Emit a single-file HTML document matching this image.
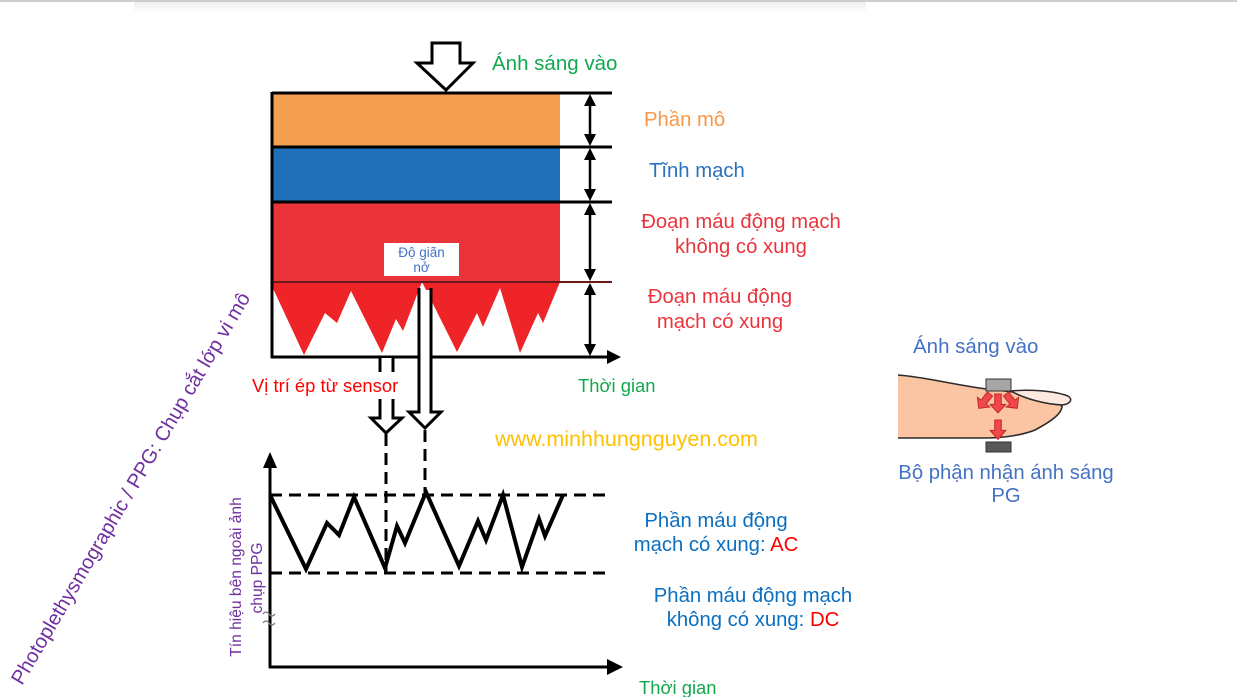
<!DOCTYPE html>
<html>
<head>
<meta charset="utf-8">
<style>
html,body{margin:0;padding:0;background:#fff;}
body{width:1237px;height:697px;overflow:hidden;position:relative;}
svg{position:absolute;left:0;top:0;}
text{font-family:"Liberation Sans","DejaVu Sans",sans-serif;}
</style>
</head>
<body>
<svg width="1237" height="697" viewBox="0 0 1237 697" xmlns="http://www.w3.org/2000/svg">
  <defs>
    <linearGradient id="topg" x1="0" y1="0" x2="0" y2="1">
      <stop offset="0" stop-color="#efefef"/>
      <stop offset="1" stop-color="#ffffff"/>
    </linearGradient>
  </defs>
  <!-- top faint line -->
  <rect x="0" y="0" width="1237" height="2" fill="#cdcdcd"/>
  <rect x="134" y="2" width="732" height="11" fill="url(#topg)"/>

  <!-- ===== TOP CHART ===== -->
  <rect x="272" y="93" width="288" height="54" fill="#f49f50"/>
  <rect x="272" y="147" width="288" height="55" fill="#1f6fb9"/>
  <rect x="272" y="202" width="288" height="80" fill="#eb3439"/>
  <polygon fill="#ee2428" points="270,282 304,355 325,313 337,323 351,291 382,353 396,319 403,331 422,282 457,352 477,313 483,327 500,288 520,353 538,313 543,323 560,282"/>

  <g stroke="#000" stroke-width="3" fill="none">
    <line x1="272" y1="93" x2="612" y2="93"/>
    <line x1="272" y1="147" x2="612" y2="147"/>
    <line x1="272" y1="202" x2="612" y2="202"/>
    <line x1="272" y1="282" x2="612" y2="282" stroke="#6a1a1a" stroke-width="2"/>
    <line x1="272" y1="92" x2="272" y2="358"/>
    <line x1="271" y1="357" x2="610" y2="357"/>
  </g>
  <polygon points="621,357 607,350 607,364" fill="#000"/>

  <!-- double arrows -->
  <g stroke="#000" stroke-width="2.5">
    <line x1="590" y1="100" x2="590" y2="140"/>
    <line x1="590" y1="154" x2="590" y2="195"/>
    <line x1="590" y1="209" x2="590" y2="275"/>
    <line x1="590" y1="289" x2="590" y2="350"/>
  </g>
  <g fill="#000">
    <polygon points="590,94 584,106 596,106"/>
    <polygon points="590,146 584,134 596,134"/>
    <polygon points="590,148 584,160 596,160"/>
    <polygon points="590,201 584,189 596,189"/>
    <polygon points="590,203 584,215 596,215"/>
    <polygon points="590,281 584,269 596,269"/>
    <polygon points="590,283 584,295 596,295"/>
    <polygon points="590,356 584,344 596,344"/>
  </g>

  <!-- top hollow arrow -->
  <polygon points="432,43 460,43 460,63 473,63 446,90 417,63 432,63" fill="#fff" stroke="#000" stroke-width="3" stroke-linejoin="miter"/>

  <!-- label box -->
  <rect x="384" y="243" width="75" height="33" fill="#fff"/>
  <text x="421.5" y="257" font-size="13.5" fill="#4472c4" text-anchor="middle">Độ giãn</text>
  <text x="421.5" y="272" font-size="13.5" fill="#4472c4" text-anchor="middle">nở</text>

  <!-- peak hollow arrow -->
  <polygon points="419,290 419,412 409,412 425,428 441,412 431,412 431,290" fill="#fff" stroke="none"/>
  <polyline points="419,288 419,412 409,412 425,428 441,412 431,412 431,288" fill="none" stroke="#000" stroke-width="3"/>

  <!-- sensor hollow arrow -->
  <polygon points="380,358 380,418 371,418 386,433 402,418 393,418 393,358" fill="#fff" stroke="none"/>
  <polyline points="380,358 380,418 371,418 386,433 402,418 393,418 393,358" fill="none" stroke="#000" stroke-width="3"/>
  <rect x="250" y="372" width="147" height="27" fill="#fff"/>
  <text x="252" y="392" font-size="18.4" fill="#ff0000">Vị trí ép từ sensor</text>

  <!-- dashed verticals -->
  <g stroke="#000" stroke-width="3" stroke-dasharray="12 7" fill="none">
    <line x1="386" y1="434" x2="386" y2="573"/>
    <line x1="425" y1="430" x2="425" y2="495"/>
  </g>

  <!-- ===== LOWER CHART ===== -->
  <g stroke="#000" stroke-width="3" fill="none">
    <line x1="270" y1="466" x2="270" y2="668"/>
    <line x1="269" y1="667" x2="608" y2="667"/>
  </g>
  <polygon points="270,452 263,468 277,468" fill="#000"/>
  <polygon points="623,667 607,659 607,675" fill="#000"/>
  <g stroke="#000" stroke-width="3" stroke-dasharray="12 7" fill="none">
    <line x1="270" y1="495" x2="610" y2="495"/>
    <line x1="270" y1="573" x2="610" y2="573"/>
  </g>
  <polyline fill="none" stroke="#000" stroke-width="4" stroke-linejoin="miter" points="270,495 306,569 327,523 339,535 354,497 385,568 397,526 405,543 426,492 459,566 478,521 486,540 503,495 522,567 539,519 545,536 563,495"/>
  <!-- break marks -->
  <g stroke="#777" stroke-width="1.3" fill="none">
    <path d="M263,614 q3,-4 6,0 t6,0"/>
    <path d="M263,623 q3,-4 6,0 t6,0"/>
  </g>

  <!-- ===== TEXT LABELS ===== -->
  <text x="492" y="70" font-size="20.5" fill="#12a84f">Ánh sáng vào</text>
  <text x="644" y="126" font-size="20.3" fill="#f79646">Phần mô</text>
  <text x="649" y="177" font-size="20.3" fill="#2a72c0">Tĩnh mạch</text>
  <text x="741" y="228" font-size="20.3" fill="#e8353b" text-anchor="middle">Đoạn máu động mạch</text>
  <text x="741" y="253" font-size="20.3" fill="#e8353b" text-anchor="middle">không có xung</text>
  <text x="720" y="303" font-size="20.3" fill="#e8353b" text-anchor="middle">Đoạn máu động</text>
  <text x="720" y="328" font-size="20.3" fill="#e8353b" text-anchor="middle">mạch có xung</text>
  <text x="578" y="392" font-size="18.4" fill="#13a84d">Thời gian</text>

  <text x="495" y="446" font-size="21.5" fill="#ffc000">www.minhhungnguyen.com</text>

  <text x="716" y="527" font-size="20.3" fill="#0b6fc1" text-anchor="middle">Phần máu động</text>
  <text x="716" y="551" font-size="20.3" fill="#0b6fc1" text-anchor="middle">mạch có xung: <tspan fill="#ff0000">AC</tspan></text>
  <text x="753" y="602" font-size="20.3" fill="#0b6fc1" text-anchor="middle">Phần máu động mạch</text>
  <text x="753" y="626" font-size="20.3" fill="#0b6fc1" text-anchor="middle">không có xung: <tspan fill="#ff0000">DC</tspan></text>
  <text x="639" y="694" font-size="18.4" fill="#13a84d">Thời gian</text>

  <!-- rotated axis label -->
  <text transform="translate(241,577) rotate(-90)" font-size="15.6" fill="#7030a0" text-anchor="middle">Tín hiệu bên ngoài ảnh</text>
  <text transform="translate(262,578) rotate(-90)" font-size="15.6" fill="#7030a0" text-anchor="middle">chụp PPG</text>

  <!-- diagonal title -->
  <text transform="translate(22,686) rotate(-59.5)" font-size="20.2" fill="#7030a0">Photoplethysmographic / PPG: Chụp cắt lớp vi mô</text>

  <!-- ===== FINGER ===== -->
  <text x="913" y="353" font-size="20.5" fill="#4472c4">Ánh sáng vào</text>
  <path d="M898,375 C925,377 950,384 986,389 L1013,392 C1030,394 1050,398 1062,406 C1062,414 1050,422 1035,430 C1020,436 1000,438 985,438 L898,438 Z" fill="#fbc4a3"/>
  <path d="M898,375 C925,377 950,384 986,389 L1013,392 C1030,394 1050,398 1062,406 C1062,414 1050,422 1035,430 C1020,436 1000,438 985,438 L898,438" fill="none" stroke="#2b2b2b" stroke-width="1.6"/>
  <path d="M1011,391 C1030,389 1055,391 1068,396 C1073,399 1071,404 1062,405 C1045,404 1025,399 1011,391 Z" fill="#fde9df" stroke="#2b2b2b" stroke-width="1.5"/>
  <rect x="986" y="379" width="25" height="12" fill="#a6a6a6" stroke="#333" stroke-width="1"/>
  <rect x="986" y="442" width="25" height="10" fill="#595959" stroke="#333" stroke-width="1"/>
  <g fill="#f04848" stroke="#c22a2a" stroke-width="0.8">
    <polygon transform="translate(990,394) rotate(38) scale(1.3)" points="-2.5,0 2.5,0 2.5,8 6,8 0,14 -6,8 -2.5,8"/>
    <polygon transform="translate(998,394) scale(1.3)" points="-2.5,0 2.5,0 2.5,8 6,8 0,14.5 -6,8 -2.5,8"/>
    <polygon transform="translate(1006,394) rotate(-38) scale(1.3)" points="-2.5,0 2.5,0 2.5,8 6,8 0,14 -6,8 -2.5,8"/>
    <polygon transform="translate(998,420) scale(1.3)" points="-2.5,0 2.5,0 2.5,8 6,8 0,15 -6,8 -2.5,8"/>
  </g>
  <text x="1006" y="479" font-size="20.3" fill="#4472c4" text-anchor="middle">Bộ phận nhận ánh sáng</text>
  <text x="1006" y="502" font-size="20.3" fill="#4472c4" text-anchor="middle">PG</text>
</svg>
</body>
</html>
